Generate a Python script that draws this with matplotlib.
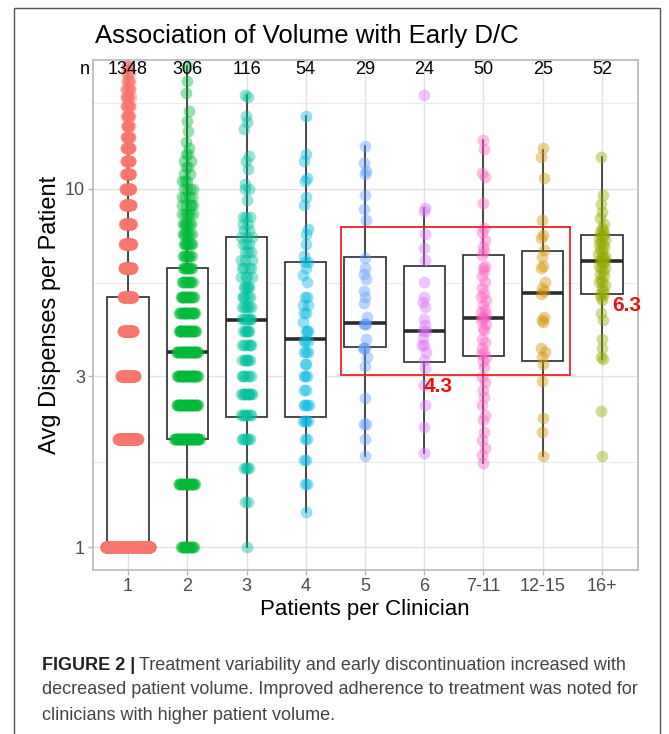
import numpy as np
import matplotlib
matplotlib.use('Agg')
import matplotlib.pyplot as plt
from matplotlib.patches import Rectangle
from matplotlib.ticker import FixedLocator, NullFormatter

plt.rcParams['font.family'] = ['Liberation Sans', 'DejaVu Sans']

groups = ["1", "2", "3", "4", "5", "6", "7-11", "12-15", "16+"]
n_counts = [1348, 306, 116, 54, 29, 24, 50, 25, 52]
colors = ["#F8766D", "#00BA38", "#00C19F", "#00B9E3", "#619CFF",
          "#DB72FB", "#FF61C3", "#D39200", "#93AA00"]

# box statistics
whis_lo = [1, 1, 1, 1.25, 1.8, 1.833, 1.72, 1.8, 3.35]
q1 = [1, 2, 2.31, 2.31, 3.62, 3.29, 3.41, 3.31, 5.09]
med = [1, 3.5, 4.31, 3.81, 4.22, 4.0, 4.36, 5.12, 6.3]
q3 = [5, 6, 7.34, 6.25, 6.46, 6.1, 6.55, 6.71, 7.44]
whis_hi = [22, 22, 18.3, 16, 13.2, 8.83, 13.7, 12.85, 12.3]

# points: the low-volume groups take discrete values, given as level/count
g1_levels = list(range(1, 23))
g1_counts = [680, 170, 100, 60, 55, 45, 38, 32, 28, 25, 20, 17, 14, 12, 10,
             9, 8, 7, 6, 5, 4, 3]

g2_levels = [1, 1.5, 2, 2.5, 3, 3.5, 4, 4.5, 5, 5.5, 6,
             6.5, 7, 7.5, 8, 8.5, 9, 9.5, 10, 10.5, 11, 11.5, 12,
             12.5, 13, 13.5, 14.5, 15.5, 16.5, 18.5, 20, 22]
g2_counts = [15, 20, 40, 30, 28, 30, 22, 18, 15, 10, 10,
             8, 8, 7, 7, 6, 5, 4, 4, 3, 2, 2, 2,
             2, 1, 1, 1, 1, 1, 1, 1, 1]

g3_levels = [1, 1.333, 1.667, 2, 2.333, 2.667, 3, 3.333, 3.667, 4, 4.333,
             4.667, 5, 5.333, 5.667, 6, 6.333, 6.667, 7, 7.333, 7.667, 8,
             8.333, 9.333, 10, 10.333, 11.333, 12, 12.333, 14.667, 15.333,
             16, 18, 18.333]
g3_counts = [1, 2, 4, 6, 7, 10, 6, 6, 6, 6, 7, 6, 5, 5, 4, 4, 3, 3, 3, 3, 2,
             2, 3, 1, 2, 1, 1, 1, 1, 1, 1, 1, 1, 1]

g4_values = [1.25, 1.5, 1.5, 1.75, 1.75, 2, 2, 2.25, 2.25, 2.25, 2.25, 2.5,
             2.5, 2.5, 2.5, 2.75, 2.75, 3, 3, 3, 3.25, 3.25, 3.5, 3.5, 3.5,
             3.75, 3.75, 3.75, 4, 4, 4, 4.25, 4.5, 4.5, 4.75, 4.75, 5, 5,
             5.5, 5.75, 6, 6.25, 6.25, 6.5, 7, 7.5, 7.75, 9, 9.5, 10.5,
             10.75, 12, 12.5, 16]
g5_values = [1.8, 2.0, 2.2, 2.2, 2.6, 3.2, 3.4, 3.6, 3.6, 3.6, 3.8, 4.2, 4.2,
             4.2, 4.4, 4.8, 5.0, 5.2, 5.6, 5.8, 6.0, 6.4, 8.2, 8.8, 9.6, 11.0,
             11.2, 11.8, 13.2]
g6_values = [1.833, 2.167, 2.5, 2.833, 3.167, 3.333, 3.5, 3.667, 3.667,
             3.833, 4.0, 4.0, 4.167, 4.333, 4.667, 4.833, 5.0, 5.5, 6.333,
             6.833, 7.5, 8.667, 8.833, 18.333]
g7_values = [1.72, 1.81, 1.89, 1.99, 2.1, 2.26, 2.34, 2.5, 2.63, 2.74, 2.89,
             2.98, 3.18, 3.3, 3.4, 3.45, 3.5, 3.6, 3.74, 3.8, 4.04, 4.1, 4.2,
             4.3, 4.36, 4.4, 4.45, 4.53, 4.6, 4.74, 4.9, 5.0, 5.12, 5.3, 5.5,
             5.7, 5.9, 6.0, 6.1, 6.55, 6.7, 6.9, 7.2, 7.6, 7.8, 9.13, 10.8,
             11.1, 12.9, 13.7]
g8_values = [1.8, 2.1, 2.3, 2.9, 3.25, 3.4, 3.5, 3.6, 4.25, 4.3, 4.4, 5.1,
             5.2, 5.3, 5.5, 6.0, 6.1, 6.45, 6.75, 7.3, 7.45, 8.2, 10.7, 12.3,
             13.0]
g9_values = [1.8, 2.4, 3.35, 3.4, 3.6, 3.8, 4.3, 4.5, 4.9, 5.0, 5.1, 5.1, 5.2,
             5.3, 5.4, 5.5, 5.5, 5.6, 5.7, 5.8, 5.9, 6.0, 6.0, 6.1, 6.2, 6.3,
             6.3, 6.35, 6.4, 6.5, 6.5, 6.6, 6.7, 6.8, 6.9, 7.0, 7.0, 7.1, 7.2,
             7.3, 7.4, 7.45, 7.5, 7.6, 7.7, 7.8, 8.0, 8.3, 8.6, 9.1, 9.6, 12.3]

point_sets = [np.repeat(g1_levels, g1_counts), np.repeat(g2_levels, g2_counts),
              np.repeat(g3_levels, g3_counts), g4_values, g5_values,
              g6_values, g7_values, g8_values, g9_values]

# horizontal spread of the swarm at its densest point, per group
spread = [0.38, 0.22, 0.12, 0.07, 0.04, 0.04, 0.06, 0.05, 0.07]


def vdc(i):
    v, denom = 0.0, 1.0
    while i:
        denom *= 2
        i, r = divmod(i, 2)
        v += r / denom
    return v


def swarm_offsets(vals, width):
    lv = np.log10(np.sort(np.asarray(vals, float)))
    dens = np.array([np.sum(np.abs(lv - x) <= 0.025) for x in lv], float)
    dens /= dens.max()
    hw = width * dens ** 0.6
    q = np.array([2 * vdc(i + 1) - 1 for i in range(len(lv))])
    return 10 ** lv, hw * q


fig = plt.figure(figsize=(6.69, 7.34), dpi=100)
ax = fig.add_axes([92.5 / 669, 1 - 570 / 734, 545 / 669, 510 / 734])

pos = np.arange(1, len(groups) + 1)

stats = [dict(whislo=a, q1=b, med=c, q3=d, whishi=e, label=g)
         for a, b, c, d, e, g in zip(whis_lo, q1, med, q3, whis_hi, groups)]
ax.bxp(stats, positions=pos, widths=0.7, showfliers=False, showcaps=False,
       patch_artist=True,
       boxprops=dict(facecolor="white", edgecolor="#2B2B2B", linewidth=1.2),
       whiskerprops=dict(color="#2B2B2B", linewidth=1.2),
       medianprops=dict(color="#2B2B2B", linewidth=2.6),
       zorder=2)

for p, vals, col, w in zip(pos, point_sets, colors, spread):
    yv, dx = swarm_offsets(vals, w)
    ax.scatter(p + dx, yv, s=72, color=col, alpha=0.42, linewidths=0, zorder=3)

ax.set_yscale("log")
ax.set_ylim(0.863, 22.9)
ax.set_xlim(0.4, 9.6)
ax.yaxis.set_major_locator(FixedLocator([1, 3, 10]))
ax.set_yticklabels(["1", "3", "10"])
ax.yaxis.set_minor_locator(FixedLocator([3 ** 0.5, 30 ** 0.5, 300 ** 0.5]))
ax.yaxis.set_minor_formatter(NullFormatter())
ax.set_xticks(pos)
ax.set_xticklabels(groups)

ax.grid(True, which="major", color="#E2E2E2", linewidth=1.0, zorder=0)
ax.grid(True, which="minor", axis="y", color="#EBEBEB", linewidth=0.8, zorder=0)
ax.set_axisbelow(True)
ax.tick_params(which="major", length=3.5, width=1.0, color="#B3B3B3",
               labelcolor="#4D4D4D", labelsize=13, pad=2)
ax.tick_params(which="minor", length=0)
for s in ax.spines.values():
    s.set_edgecolor("#B3B3B3")
    s.set_linewidth(1.1)

ax.set_xlabel("Patients per Clinician", fontsize=16, labelpad=3)
ax.set_ylabel("Avg Dispenses per Patient", fontsize=17, labelpad=3)

# sample sizes along the top
ax.text(0.27, 21.5, "n", ha="center", va="center", fontsize=13, clip_on=False)
for p, n in zip(pos, n_counts):
    ax.text(p, 21.5, str(n), ha="center", va="center", fontsize=13, zorder=4)

# highlight box and medians
ax.add_patch(Rectangle((4.59, 3.02), 3.87, 7.83 - 3.02, fill=False,
                       edgecolor="#EE2222", linewidth=1.3, zorder=4))
ax.text(6.24, 2.8, "4.3", color="#EE1111", fontsize=15, fontweight="bold",
        ha="center", va="center", zorder=5)
ax.text(9.42, 4.74, "6.3", color="#EE1111", fontsize=15, fontweight="bold",
        ha="center", va="center", zorder=5)

fig.text(95 / 669, 1 - 36 / 734, "Association of Volume with Early D/C",
         fontsize=18.5, ha="left", va="center")

# outer frame
fig.patches.append(Rectangle((14 / 669, -0.02), 646 / 669, 1 - 8 / 734 + 0.02,
                             transform=fig.transFigure, fill=False,
                             edgecolor="#555555", linewidth=1.0))

# caption
renderer = fig.canvas.get_renderer()
cx = 42 / 669
t0 = fig.text(cx, 1 - 665 / 734, "FIGURE 2 |", fontsize=13, fontweight="bold",
              color="#222222", va="center", ha="left")
bb = t0.get_window_extent(renderer)
fig.text((bb.x1 + 4) / fig.bbox.width, 1 - 665 / 734,
         "Treatment variability and early discontinuation increased with",
         fontsize=13, color="#444444", va="center", ha="left")
fig.text(cx, 1 - 690 / 734,
         "decreased patient volume. Improved adherence to treatment was noted for",
         fontsize=13, color="#444444", va="center", ha="left")
fig.text(cx, 1 - 715 / 734, "clinicians with higher patient volume.",
         fontsize=13, color="#444444", va="center", ha="left")

fig.savefig("out.png", dpi=100, facecolor="white")
